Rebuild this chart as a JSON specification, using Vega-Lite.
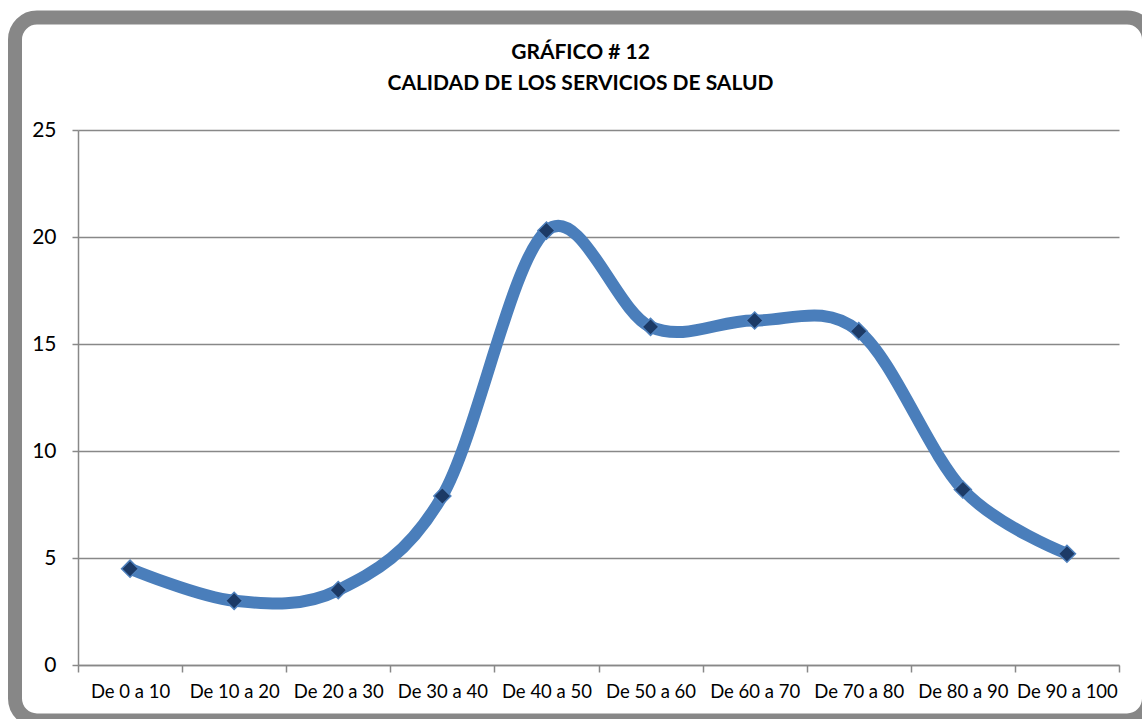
{
  "$schema": "https://vega.github.io/schema/vega-lite/v6.json",
  "width": 1041,
  "height": 535,
  "autosize": {"type": "none"},
  "padding": {"left": 78, "top": 130, "right": 23, "bottom": 54},
  "background": "white",
  "title": {
    "text": ["GRÁFICO # 12", "CALIDAD DE LOS SERVICIOS DE SALUD"],
    "font": "Lato",
    "fontSize": 21,
    "fontWeight": "bold",
    "color": "black",
    "anchor": "middle",
    "lineHeight": 31,
    "offset": -83,
    "dx": -18
  },
  "config": {"view": {"stroke": null}},
  "data": {
    "values": [
      {"rango": "De 0 a 10", "valor": 4.5},
      {"rango": "De 10 a 20", "valor": 3.0},
      {"rango": "De 20 a 30", "valor": 3.5},
      {"rango": "De 30 a 40", "valor": 7.9},
      {"rango": "De 40 a 50", "valor": 20.3},
      {"rango": "De 50 a 60", "valor": 15.8},
      {"rango": "De 60 a 70", "valor": 16.1},
      {"rango": "De 70 a 80", "valor": 15.6},
      {"rango": "De 80 a 90", "valor": 8.2},
      {"rango": "De 90 a 100", "valor": 5.2}
    ]
  },
  "encoding": {
    "x": {
      "field": "rango",
      "type": "nominal",
      "sort": null,
      "scale": {"paddingInner": 0, "paddingOuter": 0},
      "axis": {
        "title": null,
        "labelAngle": 0,
        "tickBand": "extent",
        "labelAlign": "center",
        "labelFont": "Lato",
        "labelFontSize": 18.5,
        "labelColor": "black",
        "labelPadding": 10,
        "tickSize": 7,
        "tickWidth": 1.5,
        "tickColor": "#888888",
        "domainColor": "#888888",
        "domainWidth": 1.5,
        "grid": false
      }
    },
    "y": {
      "field": "valor",
      "type": "quantitative",
      "scale": {"domain": [0, 25], "nice": false},
      "axis": {
        "title": null,
        "values": [0, 5, 10, 15, 20, 25],
        "labelFont": "Lato",
        "labelFontSize": 21,
        "labelColor": "black",
        "labelPadding": 16,
        "tickSize": 6,
        "tickWidth": 1.5,
        "tickColor": "#888888",
        "domainColor": "#888888",
        "domainWidth": 1.5,
        "grid": true,
        "gridColor": "#888888",
        "gridWidth": 1.5,
        "gridOpacity": 1
      }
    }
  },
  "layer": [
    {
      "data": {"values": [{}]},
      "mark": {
        "type": "rect",
        "fill": null,
        "stroke": "#878787",
        "strokeWidth": 14,
        "cornerRadius": 22,
        "clip": false
      },
      "encoding": {
        "x": {"value": -63},
        "x2": {"value": 1071},
        "y": {"value": -112.5},
        "y2": {"value": 590.5}
      }
    },
    {
      "mark": {"type": "line", "interpolate": "cardinal", "tension": 0, "color": "#4A7EBB", "strokeWidth": 12, "strokeCap": "round"}
    },
    {
      "mark": {"type": "point", "shape": "diamond", "filled": true, "size": 290, "fill": "#1C3A66", "stroke": "#4F81BD", "strokeWidth": 1.5, "opacity": 1}
    }
  ]
}
